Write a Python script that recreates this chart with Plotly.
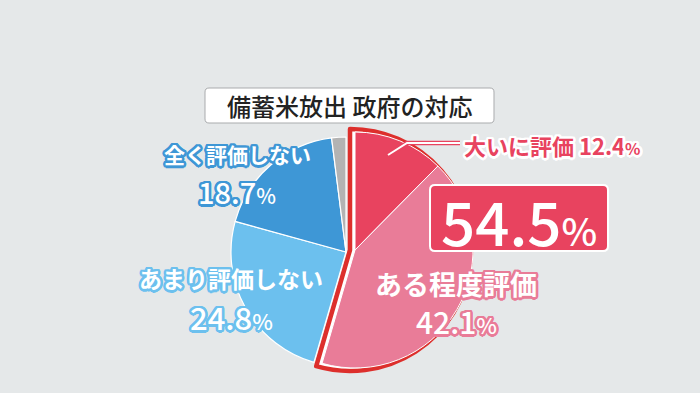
import math
import plotly.graph_objects as go

W, H = 700, 393

# ---- data ----
categories = ["大いに評価", "ある程度評価", "あまり評価しない", "全く評価しない", "その他"]
values = [12.4, 42.1, 24.8, 18.7, 2.0]
title_text = "備蓄米放出 政府の対応"
positive_total_label = "54.5"

# ---- styles ----
BG = "#e5e8e9"
slice_colors = ["#e8435f", "#e97c98", "#6cc0ee", "#3e97d6", "#b3b3b3"]
RED = "#dd2f2c"
CLEAR = "rgba(0,0,0,0)"
FONT = "Noto Sans CJK JP"


def dom(cx, cy, r):
    return dict(x=[(cx - r) / W, (cx + r) / W], y=[1 - (cy + r) / H, 1 - (cy - r) / H])


def px(x):
    return x / W


def py(y):
    return 1 - y / H


def stroke(color, r=2.5, n=16):
    parts = []
    for i in range(n):
        a = 2 * math.pi * i / n
        parts.append(f"{r*math.cos(a):.2f}px {r*math.sin(a):.2f}px 0 {color}")
    return ", ".join(parts)


def rrect(x0, y0, x1, y1, rad):
    def P(x, y):
        return f"{px(x):.5f},{py(y):.5f}"
    return (f"M {P(x0+rad, y0)} L {P(x1-rad, y0)} Q {P(x1, y0)} {P(x1, y0+rad)} "
            f"L {P(x1, y1-rad)} Q {P(x1, y1)} {P(x1-rad, y1)} L {P(x0+rad, y1)} "
            f"Q {P(x0, y1)} {P(x0, y1-rad)} L {P(x0, y0+rad)} Q {P(x0, y0)} {P(x0+rad, y0)} Z")


n = len(values)
pos_idx = [0, 1]
pos_sum = sum(values[i] for i in pos_idx)
rest_sum = sum(values) - pos_sum

fig = go.Figure()

# outline of the positive wedge (white fill + red border)
fig.add_trace(go.Pie(
    values=[pos_sum, rest_sum], sort=False, direction="clockwise", rotation=0,
    domain=dom(350, 250, 121), textinfo="none", hoverinfo="skip", showlegend=False,
    marker=dict(colors=["white", CLEAR], line=dict(color=[RED, CLEAR], width=[4.5, 0])),
))

# positive slices, slightly pulled out
fig.add_trace(go.Pie(
    values=values, labels=categories, sort=False, direction="clockwise", rotation=0,
    domain=dom(355, 250, 118), textinfo="none", hoverinfo="skip", showlegend=False,
    marker=dict(colors=[slice_colors[i] if i in pos_idx else CLEAR for i in range(n)],
                line=dict(color="white", width=[1 if i in pos_idx else 0 for i in range(n)])),
))

# negative slices
fig.add_trace(go.Pie(
    values=values, labels=categories, sort=False, direction="clockwise", rotation=0,
    domain=dom(346, 252, 115), textinfo="none", hoverinfo="skip", showlegend=False,
    marker=dict(colors=[CLEAR if i in pos_idx else slice_colors[i] for i in range(n)],
                line=dict(color="white", width=[0 if i in pos_idx else 1.2 for i in range(n)])),
))

shapes = []
# title box
shapes.append(dict(type="path", xref="paper", yref="paper", path=rrect(205, 88, 494, 123, 4),
                   fillcolor="white", line=dict(color="#a9abad", width=1), layer="above"))
# 54.5% box
shapes.append(dict(type="path", xref="paper", yref="paper", path=rrect(430, 185, 608, 251, 5),
                   fillcolor="#e8435f", line=dict(color="white", width=2), layer="above"))
# leader line for 大いに評価
lead = f"M {px(388):.5f},{py(155):.5f} L {px(407):.5f},{py(143):.5f} L {px(460):.5f},{py(143):.5f}"
shapes.append(dict(type="path", xref="paper", yref="paper", path=lead,
                   line=dict(color="#e8435f", width=4.5), layer="above"))
shapes.append(dict(type="path", xref="paper", yref="paper", path=lead,
                   line=dict(color="white", width=2), layer="above"))

ann = []


def label(x, y, text, size, color, outline, r=2.5, xanchor="center", weight=700):
    ann.append(dict(x=px(x), y=py(y), xref="paper", yref="paper", text=text, showarrow=False,
                    xanchor=xanchor, yanchor="middle",
                    font=dict(family=FONT, size=size, color=color, weight=weight,
                              shadow=stroke(outline, r) if outline else "none")))


def pct(v, big, small, w=500):
    return (f"<span style='font-size:{big}px;font-weight:{w}'>{v}</span>"
            f"<span style='font-size:{small}px;font-weight:{w}'>%</span>")


ann.append(dict(x=px(349.5), y=py(105), xref="paper", yref="paper", text=title_text,
                showarrow=False, xanchor="center", yanchor="middle",
                font=dict(family=FONT, size=24, color="#222222", weight=500)))

label(462, 145, f"{categories[0]} {pct(values[0], 22, 16, 700)}", 22, "#e8435f", "white", 2.5, xanchor="left")
label(456, 283, categories[1], 27, "white", "#e97c98", 2.5)
label(456, 321, pct(values[1], 30, 22), 30, "white", "#e97c98", 2.5)
label(231, 278, categories[2], 23, "white", "#6cc0ee", 2.5)
label(231, 316, pct(values[2], 31, 22), 31, "white", "#6cc0ee", 2.5)
label(237, 154, categories[3], 21, "white", "#3e97d6", 2.5)
label(237, 191, pct(values[3], 29, 21), 29, "white", "#3e97d6", 2.5)

ann.append(dict(x=px(519), y=py(219), xref="paper", yref="paper",
                text=f"{positive_total_label}<span style='font-size:38px'>%</span>",
                showarrow=False, xanchor="center", yanchor="middle",
                font=dict(family=FONT, size=60, color="white", weight=500)))

fig.update_layout(
    width=W, height=H, margin=dict(l=0, r=0, t=0, b=0),
    paper_bgcolor=BG, plot_bgcolor=BG, showlegend=False,
    shapes=shapes, annotations=ann,
)

fig.write_html("out.html")
